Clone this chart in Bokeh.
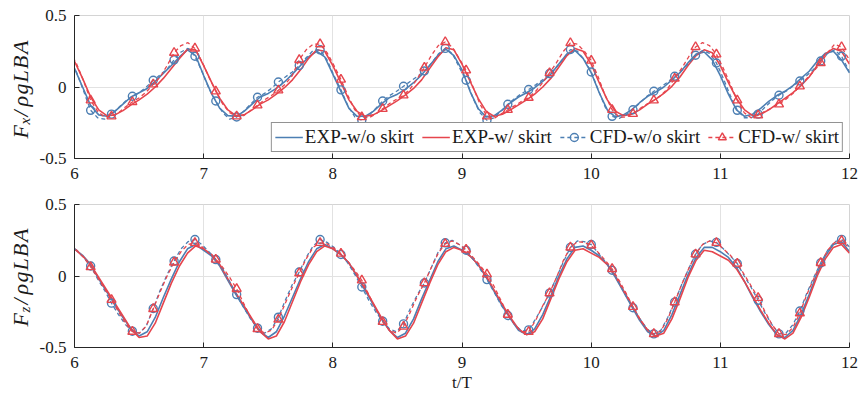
import numpy as np
from bokeh.plotting import figure
from bokeh.layouts import column, row
from bokeh.models import Range1d, FixedTicker
from bokeh.core.properties import value
from bokeh.embed import file_html
from bokeh.resources import INLINE

# ---------------- data ----------------
t_exp = 6 + np.arange(97) / 16
t_cfd = 5.9635 + 0.05383 * np.arange(114)

fx_exp_wo = [
    0.13, 0.00, -0.13, -0.195, -0.205, -0.17, -0.12, -0.07, -0.04, -0.01, 0.04, 0.095, 0.15, 0.21, 0.26, 0.22,
    0.08, -0.05, -0.15, -0.20, -0.205, -0.17, -0.12, -0.07, -0.045, -0.01, 0.035, 0.09, 0.15, 0.21, 0.25, 0.21,
    0.09, -0.03, -0.15, -0.205, -0.205, -0.17, -0.12, -0.075, -0.05, -0.015, 0.03, 0.085, 0.15, 0.22, 0.265, 0.22,
    0.12, -0.03, -0.15, -0.21, -0.20, -0.16, -0.11, -0.07, -0.04, -0.005, 0.04, 0.09, 0.16, 0.23, 0.255, 0.20,
    0.10, -0.04, -0.16, -0.21, -0.195, -0.16, -0.11, -0.065, -0.035, 0.0, 0.05, 0.10, 0.17, 0.23, 0.245, 0.19,
    0.08, -0.05, -0.16, -0.205, -0.19, -0.15, -0.10, -0.06, -0.03, 0.01, 0.06, 0.11, 0.18, 0.235, 0.25, 0.19,
    0.10]
fx_exp_w = [
    0.18, 0.06, -0.07, -0.16, -0.20, -0.195, -0.165, -0.125, -0.09, -0.05, 0.0, 0.06, 0.13, 0.20, 0.265, 0.26,
    0.15, 0.03, -0.08, -0.16, -0.20, -0.195, -0.16, -0.12, -0.09, -0.05, -0.005, 0.05, 0.12, 0.20, 0.26, 0.25,
    0.15, 0.03, -0.09, -0.17, -0.205, -0.195, -0.165, -0.13, -0.095, -0.055, -0.01, 0.05, 0.13, 0.21, 0.275, 0.26,
    0.16, 0.04, -0.08, -0.17, -0.205, -0.19, -0.16, -0.125, -0.09, -0.05, 0.0, 0.06, 0.14, 0.22, 0.27, 0.25,
    0.16, 0.03, -0.09, -0.17, -0.20, -0.19, -0.16, -0.12, -0.085, -0.045, 0.005, 0.07, 0.15, 0.22, 0.26, 0.24,
    0.15, 0.03, -0.08, -0.16, -0.20, -0.19, -0.16, -0.12, -0.08, -0.04, 0.01, 0.07, 0.15, 0.23, 0.27, 0.25,
    0.16]
fx_cfd_wo = [
    0.20, 0.10, -0.03, -0.163, -0.215, -0.225, -0.19, -0.145, -0.10, -0.065,
    -0.04, 0.00, 0.047, 0.085, 0.125, 0.19, 0.245, 0.27, 0.215, 0.11,
    -0.01, -0.098, -0.18, -0.225, -0.21, -0.17, -0.12, -0.072, -0.045, -0.01,
    0.035, 0.07, 0.105, 0.15, 0.205, 0.255, 0.26, 0.19, 0.08, -0.02,
    -0.13, -0.21, -0.233, -0.20, -0.15, -0.098, -0.06, -0.03, 0.005, 0.04,
    0.075, 0.112, 0.165, 0.23, 0.27, 0.235, 0.14, 0.047, -0.08, -0.18,
    -0.233, -0.215, -0.17, -0.121, -0.08, -0.045, -0.018, 0.015, 0.05, 0.094,
    0.14, 0.20, 0.262, 0.25, 0.19, 0.105, -0.02, -0.14, -0.205, -0.22,
    -0.195, -0.159, -0.11, -0.065, -0.03, 0.0, 0.035, 0.075, 0.115, 0.165,
    0.222, 0.255, 0.235, 0.168, 0.06, -0.06, -0.163, -0.215, -0.215, -0.19,
    -0.14, -0.095, -0.058, -0.03, 0.005, 0.042, 0.08, 0.125, 0.182, 0.235,
    0.26, 0.215, 0.12, 0.01]
fx_cfd_w = [
    0.25, 0.16, 0.04, -0.093, -0.17, -0.21, -0.205, -0.18, -0.14, -0.105,
    -0.075, -0.035, 0.019, 0.07, 0.15, 0.24, 0.29, 0.31, 0.27, 0.18,
    0.07, -0.03, -0.12, -0.18, -0.205, -0.20, -0.165, -0.128, -0.09, -0.06,
    -0.023, 0.02, 0.08, 0.19, 0.26, 0.30, 0.30, 0.24, 0.15, 0.052,
    -0.06, -0.16, -0.21, -0.215, -0.19, -0.152, -0.115, -0.085, -0.058, -0.01,
    0.06, 0.136, 0.22, 0.29, 0.315, 0.28, 0.20, 0.117, 0.0, -0.12,
    -0.205, -0.22, -0.19, -0.159, -0.13, -0.10, -0.075, -0.03, 0.03, 0.098,
    0.17, 0.25, 0.308, 0.30, 0.25, 0.185, 0.07, -0.06, -0.159, -0.21,
    -0.21, -0.187, -0.15, -0.12, -0.093, -0.06, -0.01, 0.059, 0.13, 0.21,
    0.28, 0.31, 0.29, 0.229, 0.13, 0.02, -0.093, -0.18, -0.215, -0.198,
    -0.17, -0.145, -0.121, -0.085, -0.045, 0.005, 0.06, 0.11, 0.168, 0.24,
    0.30, 0.28, 0.20, 0.10]

fz_exp_wo = [
    0.19, 0.145, 0.08, -0.02, -0.11, -0.20, -0.29, -0.37, -0.42, -0.39, -0.29, -0.15, -0.02, 0.10, 0.19, 0.22,
    0.18, 0.14, 0.07, -0.03, -0.13, -0.22, -0.31, -0.39, -0.43, -0.39, -0.28, -0.15, -0.02, 0.10, 0.19, 0.22,
    0.19, 0.15, 0.09, 0.0, -0.10, -0.20, -0.30, -0.38, -0.43, -0.40, -0.30, -0.16, -0.03, 0.10, 0.19, 0.21,
    0.18, 0.14, 0.08, -0.01, -0.11, -0.21, -0.30, -0.38, -0.41, -0.37, -0.27, -0.14, 0.0, 0.12, 0.20, 0.21,
    0.18, 0.14, 0.08, -0.01, -0.11, -0.21, -0.31, -0.39, -0.42, -0.38, -0.27, -0.13, 0.01, 0.13, 0.20, 0.20,
    0.17, 0.13, 0.06, -0.04, -0.15, -0.25, -0.34, -0.41, -0.43, -0.38, -0.27, -0.13, 0.02, 0.14, 0.22, 0.24,
    0.17]
fz_exp_w = [
    0.19, 0.14, 0.08, -0.01, -0.10, -0.19, -0.28, -0.37, -0.43, -0.42, -0.33, -0.19, -0.05, 0.07, 0.16, 0.21,
    0.19, 0.15, 0.08, -0.02, -0.12, -0.21, -0.30, -0.39, -0.44, -0.42, -0.32, -0.18, -0.04, 0.08, 0.17, 0.21,
    0.19, 0.15, 0.09, 0.0, -0.09, -0.19, -0.29, -0.38, -0.44, -0.42, -0.33, -0.19, -0.05, 0.08, 0.17, 0.20,
    0.18, 0.14, 0.08, 0.0, -0.10, -0.20, -0.29, -0.37, -0.41, -0.39, -0.30, -0.16, -0.02, 0.10, 0.18, 0.19,
    0.16, 0.13, 0.08, 0.0, -0.10, -0.20, -0.30, -0.38, -0.42, -0.40, -0.30, -0.16, -0.01, 0.11, 0.18, 0.17,
    0.14, 0.11, 0.05, -0.04, -0.14, -0.24, -0.33, -0.41, -0.44, -0.40, -0.29, -0.15, 0.0, 0.12, 0.20, 0.22,
    0.16]
fz_cfd_wo = [
    0.22, 0.18, 0.13, 0.07, -0.02, -0.10, -0.19, -0.27, -0.34, -0.386,
    -0.40, -0.35, -0.227, -0.10, 0.01, 0.105, 0.19, 0.24, 0.255, 0.22,
    0.17, 0.115, 0.05, -0.04, -0.13, -0.22, -0.30, -0.365, -0.40, -0.37,
    -0.288, -0.17, -0.06, 0.028, 0.13, 0.21, 0.255, 0.235, 0.20, 0.15,
    0.09, 0.01, -0.077, -0.17, -0.25, -0.316, -0.37, -0.39, -0.335, -0.225,
    -0.13, -0.049, 0.06, 0.17, 0.232, 0.25, 0.22, 0.18, 0.12, 0.05,
    -0.025, -0.11, -0.20, -0.276, -0.34, -0.385, -0.377, -0.30, -0.215, -0.12,
    -0.01, 0.10, 0.20, 0.245, 0.24, 0.22, 0.16, 0.10, 0.04, -0.05,
    -0.14, -0.222, -0.30, -0.37, -0.405, -0.38, -0.29, -0.183, -0.06, 0.05,
    0.152, 0.22, 0.245, 0.235, 0.19, 0.14, 0.087, 0.0, -0.08, -0.17,
    -0.26, -0.34, -0.405, -0.40, -0.34, -0.245, -0.12, -0.01, 0.092, 0.18,
    0.24, 0.256, 0.21, 0.16]
fz_cfd_w = [
    0.21, 0.18, 0.13, 0.063, -0.01, -0.09, -0.166, -0.25, -0.33, -0.389,
    -0.40, -0.35, -0.23, -0.11, 0.0, 0.095, 0.17, 0.22, 0.232, 0.205,
    0.16, 0.115, 0.06, -0.01, -0.09, -0.19, -0.29, -0.37, -0.40, -0.38,
    -0.304, -0.19, -0.08, 0.02, 0.12, 0.20, 0.232, 0.225, 0.195, 0.157,
    0.10, 0.04, -0.03, -0.13, -0.23, -0.32, -0.38, -0.40, -0.353, -0.25,
    -0.14, -0.049, 0.06, 0.16, 0.225, 0.245, 0.22, 0.185, 0.13, 0.075,
    0.012, -0.07, -0.17, -0.27, -0.34, -0.39, -0.39, -0.31, -0.21, -0.12,
    -0.01, 0.11, 0.20, 0.24, 0.235, 0.215, 0.165, 0.11, 0.05, -0.03,
    -0.12, -0.215, -0.30, -0.37, -0.405, -0.385, -0.30, -0.183, -0.06, 0.05,
    0.152, 0.22, 0.245, 0.232, 0.19, 0.145, 0.087, 0.01, -0.07, -0.152,
    -0.25, -0.34, -0.405, -0.41, -0.36, -0.26, -0.13, -0.02, 0.092, 0.18,
    0.235, 0.246, 0.20, 0.155]

series_labels = ["EXP-w/o skirt", "EXP-w/ skirt", "CFD-w/o skirt", "CFD-w/ skirt"]
x_ticks = [6, 7, 8, 9, 10, 11, 12]
y_ticks = [-0.5, 0, 0.5]
y_tick_labels = {-0.5: "-0.5", 0: "0", 0.5: "0.5"}
x_label = "t/T"

# ---------------- style ----------------
BLUE = "#4d7fb3"
RED = "#e6454d"
FONT = "Liberation Serif"
LAB_W = 36
MAIN_W = 858 - LAB_W
BL, BR = 73 - LAB_W, 9


def make_fig(height, top, bottom):
    p = figure(width=MAIN_W, height=height, x_range=Range1d(6, 12), y_range=Range1d(-0.5, 0.5),
               output_backend="svg", toolbar_location=None,
               min_border_left=BL, min_border_right=BR,
               min_border_top=top, min_border_bottom=bottom)
    p.background_fill_color = "white"
    p.border_fill_color = "white"
    p.outline_line_color = "#d4d4d4"
    p.outline_line_width = 1
    for ax in (p.xaxis[0], p.yaxis[0]):
        ax.axis_line_color = "#262626"
        ax.axis_line_width = 1
        ax.major_tick_line_color = "#262626"
        ax.major_tick_in = 5
        ax.major_tick_out = 0
        ax.minor_tick_line_color = None
        ax.major_label_text_font = FONT
        ax.major_label_text_font_size = "17px"
        ax.major_label_text_color = "#1a1a1a"
    p.xaxis.ticker = FixedTicker(ticks=x_ticks)
    p.yaxis.ticker = FixedTicker(ticks=y_ticks)
    p.yaxis.major_label_overrides = y_tick_labels
    p.xaxis.major_label_standoff = 9
    p.yaxis.major_label_standoff = 8
    p.xgrid.ticker = FixedTicker(ticks=x_ticks)
    p.ygrid.ticker = FixedTicker(ticks=y_ticks)
    p.xgrid.grid_line_color = "#e2e2e2"
    p.ygrid.grid_line_color = "#e2e2e2"
    return p


def draw(p, exp_wo, exp_w, cfd_wo, cfd_w, legend):
    kw = (lambda i: {"legend_label": series_labels[i]}) if legend else (lambda i: {})
    p.line(t_exp, exp_wo, line_color=BLUE, line_width=1.6, **kw(0))
    p.line(t_exp, exp_w, line_color=RED, line_width=1.6, **kw(1))
    p.line(t_cfd, cfd_wo, line_color=BLUE, line_width=1.3, line_dash="4 3", **kw(2))
    p.scatter(t_cfd[3::3], cfd_wo[3::3], marker="circle", size=8, line_color=BLUE,
              line_width=1.4, fill_alpha=0, **kw(2))
    p.line(t_cfd, cfd_w, line_color=RED, line_width=1.3, line_dash="4 3", **kw(3))
    p.scatter(t_cfd[3::3], cfd_w[3::3], marker="triangle", size=9, line_color=RED,
              line_width=1.4, fill_alpha=0, **kw(3))


def label_strip(height, frame_top, sub):
    # a narrow figure whose data units are pixels; it holds the rotated y-axis label
    s = figure(frame_width=LAB_W, frame_height=height,
               x_range=Range1d(0, LAB_W), y_range=Range1d(0, height),
               output_backend="svg", toolbar_location=None,
               x_axis_location=None, y_axis_location=None, title=None,
               min_border_left=0, min_border_right=0, min_border_top=0, min_border_bottom=0)
    s.outline_line_color = None
    s.xgrid.visible = False
    s.ygrid.visible = False
    # (text, offset below the frame top along the axis, font size, baseline x)
    parts = [("F", 108, 22, 20), (sub, 94, 15, 24), ("/", 86, 22, 20), ("ρ", 76, 22, 20),
             ("g", 64, 22, 20), ("L", 52, 22, 20), ("B", 38.5, 22, 20), ("A", 23.5, 22, 20)]
    xs = [q[3] for q in parts]
    ys = [height - frame_top - q[1] for q in parts]
    txt = [q[0] for q in parts]
    sizes = [f"{q[2]}px" for q in parts]
    s.text(x=xs, y=ys, text=txt, angle=np.pi / 2, text_font_size=sizes,
           text_align="left", text_baseline="alphabetic",
           text_font=value(FONT), text_font_style="italic", text_color="#1a1a1a")
    return s


H1, H2 = 190, 208
p1 = make_fig(H1, 15, 32)
draw(p1, fx_exp_wo, fx_exp_w, np.array(fx_cfd_wo), np.array(fx_cfd_w), True)
lg = p1.legend[0]
lg.location = "bottom_right"
lg.orientation = "horizontal"
lg.margin = 6
lg.padding = 3
lg.spacing = 8
lg.label_standoff = 2
lg.glyph_width = 28
lg.glyph_height = 20
lg.label_text_font = FONT
lg.label_text_font_size = "19px"
lg.label_text_color = "#1a1a1a"
lg.border_line_color = "#262626"
lg.border_line_width = 1
lg.background_fill_color = "white"
lg.background_fill_alpha = 1

p2 = make_fig(H2, 14, 51)
draw(p2, fz_exp_wo, fz_exp_w, np.array(fz_cfd_wo), np.array(fz_cfd_w), False)
p2.xaxis.axis_label = x_label
p2.xaxis.axis_label_text_font = FONT
p2.xaxis.axis_label_text_font_style = "normal"
p2.xaxis.axis_label_text_font_size = "17px"
p2.xaxis.axis_label_text_color = "#1a1a1a"
p2.xaxis.axis_label_standoff = 2

s1 = label_strip(H1, 15, "x")
s2 = label_strip(H2, 14, "z")

layout = column(row(s1, p1, spacing=0), row(s2, p2, spacing=0), spacing=0)
open("out.html", "w").write(file_html(layout, INLINE))
